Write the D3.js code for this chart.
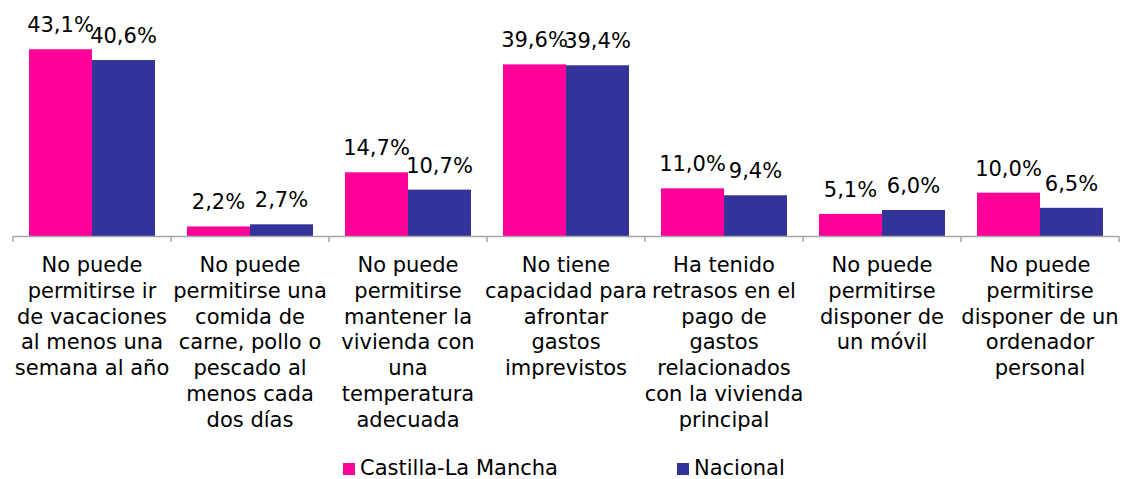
<!DOCTYPE html>
<html>
<head>
<meta charset="utf-8">
<script src="https://cdn.jsdelivr.net/npm/d3@7"></script>
<style>
  body { margin: 0; background: #fff; }
  text { font-family: "DejaVu Sans", Verdana, sans-serif; fill: #000; }
</style>
</head>
<body>
<div id="vis"></div>
<script>
const FRAME_WIDTH = 1122;
const FRAME_HEIGHT = 479;
const MARGINS = {left: 13, right: 3, top: 41, bottom: 243};

const categories = [
  "No puede\npermitirse ir\nde vacaciones\nal menos una\nsemana al año",
  "No puede\npermitirse una\ncomida de\ncarne, pollo o\npescado al\nmenos cada\ndos días",
  "No puede\npermitirse\nmantener la\nvivienda con\nuna\ntemperatura\nadecuada",
  "No tiene\ncapacidad para\nafrontar\ngastos\nimprevistos",
  "Ha tenido\nretrasos en el\npago de\ngastos\nrelacionados\ncon la vivienda\nprincipal",
  "No puede\npermitirse\ndisponer de\nun móvil",
  "No puede\npermitirse\ndisponer de un\nordenador\npersonal"
];
const seriesNames = ["Castilla-La Mancha", "Nacional"];
const castillaLaMancha = [43.1, 2.2, 14.7, 39.6, 11.0, 5.1, 10.0];
const nacional = [40.6, 2.7, 10.7, 39.4, 9.4, 6.0, 6.5];
const colors = ["#FF0099", "#333399"];

const VIS_WIDTH = FRAME_WIDTH - MARGINS.left - MARGINS.right;
const VIS_HEIGHT = FRAME_HEIGHT - MARGINS.top - MARGINS.bottom;

const svg = d3.select("#vis").append("svg")
  .attr("width", FRAME_WIDTH)
  .attr("height", FRAME_HEIGHT);

const data = categories.map((c, i) => ({cat: c, values: [castillaLaMancha[i], nacional[i]]}));

const X = d3.scaleBand().domain(d3.range(categories.length)).range([0, VIS_WIDTH]).padding(0);
const X_INNER = d3.scaleBand().domain([0, 1]).range([0, X.bandwidth()]).paddingOuter(0.254).paddingInner(0);
const Y = d3.scaleLinear().domain([0, 45]).range([VIS_HEIGHT, 0]);

const g = svg.append("g").attr("transform", `translate(${MARGINS.left},${MARGINS.top})`);

const fmt = v => d3.format(".1f")(v).replace(".", ",") + "%";

const groups = g.selectAll(".grp").data(data).enter().append("g")
  .attr("transform", (d, i) => `translate(${X(i)},0)`);

groups.selectAll("rect").data(d => d.values).enter().append("rect")
  .attr("x", (v, j) => X_INNER(j))
  .attr("width", X_INNER.bandwidth())
  .attr("y", v => Y(v))
  .attr("height", v => VIS_HEIGHT - Y(v))
  .attr("fill", (v, j) => colors[j]);

groups.selectAll(".lbl").data(d => d.values).enter().append("text")
  .attr("class", "lbl")
  .attr("x", (v, j) => X_INNER(j) + X_INNER.bandwidth() / 2)
  .attr("y", v => Y(v) - 17)
  .attr("text-anchor", "middle")
  .attr("font-size", "21px")
  .text(fmt);

// category axis
const axis = g.append("g").attr("transform", `translate(0,${VIS_HEIGHT})`);
axis.append("line").attr("x1", 0).attr("x2", VIS_WIDTH).attr("y1", 0.5).attr("y2", 0.5)
  .attr("stroke", "#A6A6A6").attr("stroke-width", 1.5);
axis.selectAll(".tick").data(d3.range(categories.length + 1)).enter().append("line")
  .attr("x1", i => i < categories.length ? X(i) : VIS_WIDTH)
  .attr("x2", i => i < categories.length ? X(i) : VIS_WIDTH)
  .attr("y1", 0).attr("y2", 6)
  .attr("stroke", "#A6A6A6").attr("stroke-width", 1.5);

axis.selectAll(".cat").data(data).enter().append("text")
  .attr("class", "cat")
  .attr("text-anchor", "middle")
  .attr("font-size", "21px")
  .attr("transform", (d, i) => `translate(${X(i) + X.bandwidth() / 2},36)`)
  .selectAll("tspan").data(d => d.cat.split("\n")).enter().append("tspan")
    .attr("x", 0)
    .attr("y", (t, k) => k * 25.8)
    .text(t => t);

// legend
const legendX = [343, 677];
const legend = svg.selectAll(".leg").data(seriesNames).enter().append("g")
  .attr("transform", (d, i) => `translate(${legendX[i]},463)`);
legend.append("rect").attr("width", 12).attr("height", 12).attr("fill", (d, i) => colors[i]);
legend.append("text").attr("x", 17).attr("y", 12).attr("font-size", "21px").text(d => d);
</script>
</body>
</html>
